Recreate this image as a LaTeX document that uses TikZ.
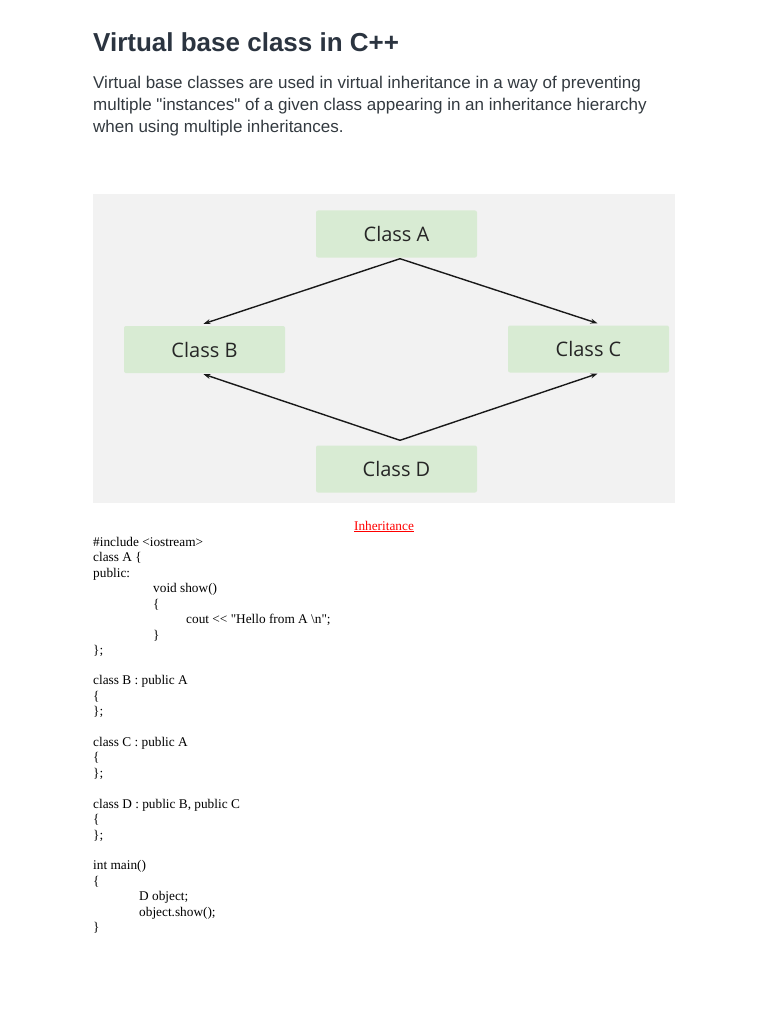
\documentclass[tikz,border=0pt]{standalone}
\usepackage{fontspec}
\setmainfont{Liberation Serif}
\setsansfont{Liberation Sans}
\newfontfamily\boxfont{Open Sans}
\usetikzlibrary{positioning,calc,arrows.meta}
\definecolor{titlegray}{HTML}{2B3440}
\definecolor{bodygray}{HTML}{333A40}
\definecolor{panelgray}{HTML}{F2F2F2}
\definecolor{boxgreen}{HTML}{D8EBD3}
\tikzset{
  cls/.style={fill=boxgreen,rounded corners=2pt,minimum width=161pt,minimum height=47pt,inner sep=0pt,font=\boxfont\fontsize{20}{24}\selectfont,text=black!85},
  code/.style={anchor=base west,inner sep=0pt,font=\fontsize{13.3}{15}\selectfont},
  para/.style={anchor=base west,inner sep=0pt,text=bodygray,font=\sffamily\fontsize{17}{20}\selectfont},
  inh/.style={-{Stealth[length=7pt,width=5pt]},line width=1.4pt,black!90}
}
\begin{document}
\begin{tikzpicture}[x=1pt,y=-1pt]
\useasboundingbox[fill=white] (0,0) rectangle (768,1024);
% heading
\node[anchor=base west,inner sep=0pt,text=titlegray,font=\sffamily\bfseries\fontsize{26}{30}\selectfont] (title) at (93,52) {Virtual base class in C++};
\node[para] (p1) at (93,89) {Virtual base classes are used in virtual inheritance in a way of preventing};
\node[para] (p2) at (93,111) {multiple \textquotedbl instances\textquotedbl{} of a given class appearing in an inheritance hierarchy};
\node[para] (p3) at (93,133) {when using multiple inheritances.};
% diagram
\fill[panelgray] (93,194) rectangle (675,503);
\node[cls] (ca) at (396.5,234) {Class A};
\node[cls] (cb) at (204.5,349.5) {Class B};
\node[cls] (cc) at (588.5,349) {Class C};
\node[cls] (cd) at (396.5,469) {Class D};
\coordinate (atop) at ($(ca.south)+(3.5,1)$);
\coordinate (dtop) at ($(cd.north)+(3.5,-5)$);
\draw[inh] (atop) -- ($(cb.north)+(-1,-2)$);
\draw[inh] (atop) -- ($(cc.north)+(9,-2)$);
\draw[inh] (dtop) -- ($(cb.south)+(-1,1)$);
\draw[inh] (dtop) -- ($(cc.south)+(9,1)$);
\node[anchor=base,inner sep=0pt,text=red,font=\fontsize{13.3}{15}\selectfont] (cap) at (384,530) {\underline{Inheritance}};
% code listing
\node[code] (l1) at (93,546) {\#include <iostream>};
\node[code] (l2) at (93,561) {class A \{};
\node[code] (l3) at (93,577) {public:};
\node[code] (l4) at (153,592) {void show()};
\node[code] (l5) at (153,608) {\{};
\node[code] (l6) at (186,623) {cout <{}< \textquotedbl Hello from A \textbackslash n\textquotedbl;};
\node[code] (l7) at (153,639) {\}};
\node[code] (l8) at (93,654) {\};};
\node[code] (l9) at (93,684) {class B : public A};
\node[code] (l10) at (93,700) {\{};
\node[code] (l11) at (93,715) {\};};
\node[code] (l12) at (93,746) {class C : public A};
\node[code] (l13) at (93,761) {\{};
\node[code] (l14) at (93,777) {\};};
\node[code] (l15) at (93,808) {class D : public B, public C};
\node[code] (l16) at (93,823) {\{};
\node[code] (l17) at (93,839) {\};};
\node[code] (l18) at (93,869) {int main()};
\node[code] (l19) at (93,885) {\{};
\node[code] (l20) at (139,900) {D object;};
\node[code] (l21) at (139,916) {object.show();};
\node[code] (l22) at (93,931) {\}};
\end{tikzpicture}
\end{document}
